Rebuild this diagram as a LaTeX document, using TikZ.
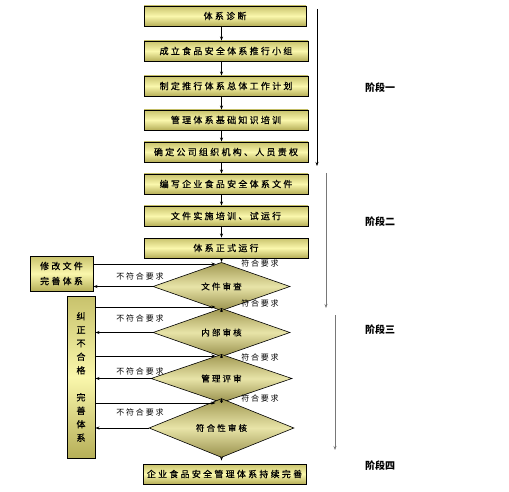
\documentclass[tikz,border=0pt]{standalone}
\usepackage{fontspec}
\usepackage{tikz}
\usepackage{xcolor}
\usetikzlibrary{shapes.geometric, arrows.meta, positioning}
\newfontfamily\boxfont{Noto Sans CJK SC}[LetterSpace=25,FakeBold=0.6]
\newfontfamily\labfont{Noto Sans CJK SC}[LetterSpace=22]
\newfontfamily\stagefont{Noto Sans CJK SC}
\definecolor{boxtop}{RGB}{200,194,108}
\definecolor{boxmid}{RGB}{250,247,172}
\definecolor{boxbot}{RGB}{182,175,88}
\definecolor{dtop}{RGB}{160,152,82}
\definecolor{dmid}{RGB}{232,228,168}
\definecolor{dbot}{RGB}{152,144,76}
\definecolor{phase}{RGB}{120,120,120}

\begin{document}
\begin{tikzpicture}[x=1pt,y=-1pt,>={Stealth[length=4pt,width=3pt]},
  stepbox/.style={draw,line width=0.9pt,rectangle,minimum height=20pt,minimum width=164pt,inner sep=0pt,top color=boxtop,bottom color=boxbot,middle color=boxmid,font=\boxfont\fontsize{9pt}{11pt}\selectfont},
  check/.style={draw,line width=0.6pt,diamond,minimum height=33pt,minimum width=137pt,inner sep=0pt,top color=dtop,bottom color=dbot,middle color=dmid,font=\boxfont\fontsize{8.5pt}{10pt}\selectfont},
  lab/.style={font=\labfont\fontsize{8pt}{9pt}\selectfont,inner sep=0pt},
  stage/.style={font=\stagefont\bfseries\fontsize{10pt}{12pt}\selectfont,inner sep=0pt},
  flow/.style={->,line width=0.6pt},
  phaseline/.style={->,line width=1pt,draw=phase}]
  \useasboundingbox (0,0) rectangle (509,492);
  \coordinate (col) at (221.5,0);
  \node[stepbox,minimum width=162pt] (b1) at (225,16) {体系诊断};
  \node[stepbox] (b2) at (226,51) {成立食品安全体系推行小组};
  \node[stepbox] (b3) at (226,86) {制定推行体系总体工作计划};
  \node[stepbox] (b4) at (226,120) {管理体系基础知识培训};
  \node[stepbox] (b5) at (226,152) {确定公司组织机构、人员责权};
  \node[stepbox] (b6) at (226,184) {编写企业食品安全体系文件};
  \node[stepbox] (b7) at (226,216) {文件实施培训、试运行};
  \node[stepbox] (b8) at (226,248) {体系正式运行};
  \node[check] (d1) at (221.5,286.5) {文件审查};
  \node[check] (d2) at (221.5,332.5) {内部审核};
  \node[check,minimum width=141pt] (d3) at (221.5,378.5) {管理评审};
  \node[check,minimum width=145pt,minimum height=32pt] (d4) at (221.5,428) {符合性审核};
  \node[stepbox,minimum width=163pt] (fin) at (224.5,474) {企业食品安全管理体系持续完善};
  \node[stepbox,minimum width=63pt,minimum height=35pt,align=center,font=\boxfont\fontsize{9pt}{15pt}\selectfont] (fix) at (61.5,273.5) {修改文件\\完善体系};
  \node[stepbox,minimum width=28pt,minimum height=162pt,align=center,font=\boxfont\fontsize{9pt}{13.5pt}\selectfont] (fixall) at (81,377) {纠\\正\\不\\合\\格\\[13.5pt]完\\善\\体\\系};
  \coordinate (j1) at (221.5,264);
  \coordinate (j2) at (221.5,307);
  \coordinate (j3) at (221.5,356);
  \coordinate (j4) at (221.5,403);
  \draw[flow] (b1.south -| col) -- (b2.north -| col);
  \draw[flow] (b2.south -| col) -- (b3.north -| col);
  \draw[flow] (b3.south -| col) -- (b4.north -| col);
  \draw[flow] (b4.south -| col) -- (b5.north -| col);
  \draw[flow] (b5.south -| col) -- (b6.north -| col);
  \draw[flow] (b6.south -| col) -- (b7.north -| col);
  \draw[flow] (b7.south -| col) -- (b8.north -| col);
  \draw[flow] (b8.south -| col) -- (d1.north);
  \draw[flow] (d1.south) -- (d2.north);
  \draw[flow] (d2.south) -- (d3.north);
  \draw[flow] (d3.south) -- (d4.north);
  \draw[flow,shorten >=3pt] (d4.south) -- (fin.north -| d4);
  \draw[flow,shorten >=6pt] (fix.east |- j1) -- (j1);
  \draw[flow,shorten >=6pt] (fixall.east |- j2) -- (j2);
  \draw[flow,shorten >=6pt] (fixall.east |- j3) -- (j3);
  \draw[flow,shorten >=6pt] (fixall.east |- j4) -- (j4);
  \draw[flow] (d1.west) -- (fix.east |- d1);
  \draw[flow] (d2.west) -- (fixall.east |- d2);
  \draw[flow] (d3.west) -- (fixall.east |- d3);
  \draw[flow] (d4.west) -- (fixall.east |- d4);
  \node[lab] (n1) at (140,276) {不符合要求};
  \node[lab] (n2) at (140,318) {不符合要求};
  \node[lab] (n3) at (140,371) {不符合要求};
  \node[lab] (n4) at (140,412) {不符合要求};
  \node[lab] (y1) at (260,263) {符合要求};
  \node[lab] (y2) at (260,303) {符合要求};
  \node[lab] (y3) at (260,357) {符合要求};
  \node[lab] (y4) at (260,398) {符合要求};
  \coordinate (p1s) at (317,9);
  \coordinate (p1e) at (317,166);
  \coordinate (p2s) at (326,173);
  \coordinate (p2e) at (326,308);
  \coordinate (p3s) at (335,315);
  \coordinate (p3e) at (335,450);
  \draw[->,line width=0.6pt] (p1s) -- (p1e);
  \draw[phaseline] (p2s) -- (p2e);
  \draw[phaseline] (p3s) -- (p3e);
  \node[stage] (s1) at (380,88) {阶段一};
  \node[stage] (s2) at (380,222) {阶段二};
  \node[stage] (s3) at (380,330) {阶段三};
  \node[stage] (s4) at (380,466) {阶段四};
\end{tikzpicture}
\end{document}
